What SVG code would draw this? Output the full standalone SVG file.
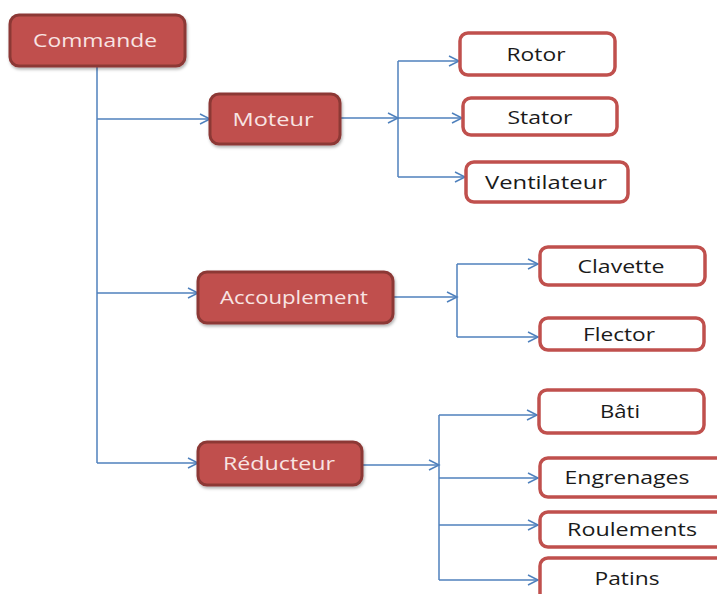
<svg xmlns="http://www.w3.org/2000/svg" width="717" height="594" viewBox="0 0 717 594">
<defs>
<marker id="arr" markerUnits="userSpaceOnUse" markerWidth="14" markerHeight="14" refX="11" refY="6" orient="auto">
<path d="M1,1 L11,6 L1,11" fill="none" stroke="#4F81BD" stroke-width="1.5"/>
</marker>
<filter id="sh" x="-10%" y="-10%" width="130%" height="140%">
<feDropShadow dx="1" dy="2" stdDeviation="1.5" flood-color="#000" flood-opacity="0.3"/>
</filter>
</defs>
<style>
.p rect{fill:#C0504D;stroke:#8C3836;stroke-width:3;filter:url(#sh)}
.p text{fill:#F8E4E3;font-family:"Open Sans","Liberation Sans",sans-serif;font-size:18px;text-anchor:middle}
.c rect{fill:#fff;stroke:#C0504D;stroke-width:3.5}
.c text{fill:#1a1a1a;font-family:"Open Sans","Liberation Sans",sans-serif;font-size:18px;font-weight:500;text-anchor:middle}
.ln{stroke:#4F81BD;stroke-width:1.5;fill:none}
.ar{stroke:#4F81BD;stroke-width:1.5;fill:none;marker-end:url(#arr)}
</style>
<rect width="717" height="594" fill="#fff"/>
<g id="connectors">
<path class="ln" d="M97,66 V463"/>
<path class="ar" d="M97,119 H210"/>
<path class="ar" d="M97,293 H198"/>
<path class="ar" d="M97,463 H198"/>
<path class="ar" d="M340,118 H398"/>
<path class="ln" d="M398,61 V177"/>
<path class="ar" d="M398,61 H459"/>
<path class="ar" d="M398,118 H462"/>
<path class="ar" d="M398,177 H465"/>
<path class="ar" d="M393,297 H457"/>
<path class="ln" d="M457,264 V337"/>
<path class="ar" d="M457,264 H538"/>
<path class="ar" d="M457,337 H538"/>
<path class="ar" d="M362,465 H439"/>
<path class="ln" d="M439,415 V580"/>
<path class="ar" d="M439,415 H537"/>
<path class="ar" d="M439,478 H538"/>
<path class="ar" d="M439,525 H538"/>
<path class="ar" d="M439,580 H538"/>
</g>
<g id="commande" class="p"><rect x="10" y="15" width="175" height="51" rx="9"/><text x="95" y="47" textLength="124" lengthAdjust="spacingAndGlyphs">Commande</text></g>
<g id="moteur" class="p"><rect x="210" y="94" width="130" height="50" rx="9"/><text x="273" y="126" textLength="81" lengthAdjust="spacingAndGlyphs">Moteur</text></g>
<g id="accouplement" class="p"><rect x="198" y="272" width="195" height="51" rx="9"/><text x="294" y="304" textLength="148" lengthAdjust="spacingAndGlyphs">Accouplement</text></g>
<g id="reducteur" class="p"><rect x="198" y="442" width="164" height="43" rx="9"/><text x="279" y="470" textLength="112" lengthAdjust="spacingAndGlyphs">Réducteur</text></g>
<g id="rotor" class="c"><rect x="460" y="33" width="155" height="42" rx="8"/><text x="536" y="61" textLength="59" lengthAdjust="spacingAndGlyphs">Rotor</text></g>
<g id="stator" class="c"><rect x="463" y="98" width="154" height="37" rx="8"/><text x="540" y="124" textLength="65" lengthAdjust="spacingAndGlyphs">Stator</text></g>
<g id="ventilateur" class="c"><rect x="466" y="162" width="162" height="40" rx="8"/><text x="546" y="189" textLength="122" lengthAdjust="spacingAndGlyphs">Ventilateur</text></g>
<g id="clavette" class="c"><rect x="540" y="247" width="165" height="38" rx="8"/><text x="621" y="273" textLength="87" lengthAdjust="spacingAndGlyphs">Clavette</text></g>
<g id="flector" class="c"><rect x="540" y="318" width="164" height="32" rx="8"/><text x="619" y="341" textLength="72" lengthAdjust="spacingAndGlyphs">Flector</text></g>
<g id="bati" class="c"><rect x="539" y="390" width="165" height="43" rx="8"/><text x="620" y="418" textLength="40" lengthAdjust="spacingAndGlyphs">Bâti</text></g>
<g id="engrenages" class="c"><rect x="540" y="458" width="185" height="39" rx="8"/><text x="627" y="484" textLength="125" lengthAdjust="spacingAndGlyphs">Engrenages</text></g>
<g id="roulements" class="c"><rect x="540" y="512" width="185" height="35" rx="8"/><text x="632" y="536" textLength="130" lengthAdjust="spacingAndGlyphs">Roulements</text></g>
<g id="patins" class="c"><rect x="540" y="558" width="185" height="47" rx="8"/><text x="627" y="585" textLength="65" lengthAdjust="spacingAndGlyphs">Patins</text></g>
</svg>
